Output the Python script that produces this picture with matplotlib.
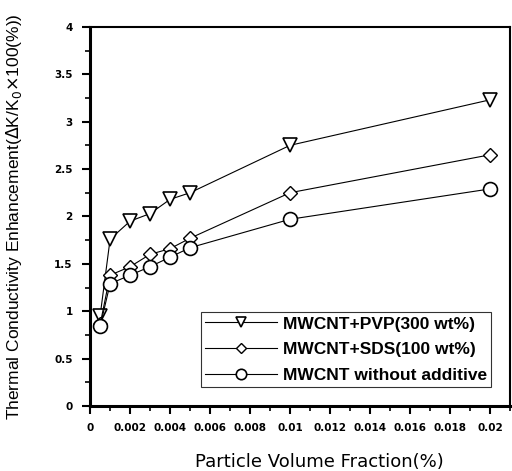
# thermal conductivity enhancement vs particle volume fraction
import matplotlib
matplotlib.use("Agg")
import matplotlib.pyplot as plt
from matplotlib.ticker import MultipleLocator

plt.rcParams['font.family'] = ['Liberation Sans', 'DejaVu Sans']

# data
frac = [0.0005, 0.001, 0.002, 0.003, 0.004, 0.005, 0.01, 0.02]
pvp = [0.95, 1.76, 1.95, 2.03, 2.18, 2.25, 2.75, 3.23]
sds = [0.86, 1.38, 1.47, 1.60, 1.66, 1.77, 2.25, 2.65]
plain = [0.84, 1.29, 1.38, 1.47, 1.57, 1.67, 1.97, 2.29]
labels = ["MWCNT+PVP(300 wt%)", "MWCNT+SDS(100 wt%)", "MWCNT without additive"]
xticks = [0, 0.002, 0.004, 0.006, 0.008, 0.01, 0.012, 0.014, 0.016, 0.018, 0.02]
xticklabels = ['0', '0.002', '0.004', '0.006', '0.008', '0.01', '0.012', '0.014', '0.016', '0.018', '0.02']
yticks = [0, 0.5, 1, 1.5, 2, 2.5, 3, 3.5, 4]
yticklabels = ['0', '0.5', '1', '1.5', '2', '2.5', '3', '3.5', '4']

fig = plt.figure(figsize=(5.12, 4.71), dpi=100)
ax = fig.add_axes([0.176, 0.138, 0.82, 0.805])

ax.plot(frac, pvp, 'k-', lw=0.8, marker='v', ms=10, mfc='white', mec='k', mew=1.2, label=labels[0])
ax.plot(frac, sds, 'k-', lw=0.8, marker='D', ms=7, mfc='white', mec='k', mew=1.0, label=labels[1])
ax.plot(frac, plain, 'k-', lw=0.8, marker='o', ms=10, mfc='white', mec='k', mew=1.2, label=labels[2])

ax.set_xlim(0, 0.021)
ax.set_ylim(0, 4)
ax.set_xticks(xticks)
ax.set_xticklabels(xticklabels)
ax.set_yticks(yticks)
ax.set_yticklabels(yticklabels)
ax.xaxis.set_minor_locator(MultipleLocator(0.001))
ax.yaxis.set_minor_locator(MultipleLocator(0.25))
ax.tick_params(which='major', direction='out', length=6, width=1.5, pad=6.5)
ax.tick_params(which='minor', direction='out', length=3.5, width=1.2)
for t in ax.get_xticklabels() + ax.get_yticklabels():
    t.set_fontfamily('DejaVu Sans')
    t.set_fontweight('bold')
    t.set_fontsize(7.5)
for s in ax.spines.values():
    s.set_linewidth(1.5)
ax.spines['left'].set_linewidth(2.2)
ax.spines['bottom'].set_linewidth(2.2)

ax.set_xlabel("Particle Volume Fraction(%)", fontsize=13, family='DejaVu Sans')
ax.xaxis.set_label_coords(0.545, -0.125)
ax.set_ylabel("Thermal Conductivity Enhancement($\\Delta$K/K$_0$$\\times$100(%))", fontsize=12.5)
ax.yaxis.set_label_coords(-0.157, 0.5)

leg = ax.legend(loc='lower right', bbox_to_anchor=(0.955, 0.05), frameon=True,
                fancybox=False, edgecolor='k', handlelength=4.1, borderpad=0.25, labelspacing=0.6,
                handletextpad=0.35, markerscale=0.75, borderaxespad=0,
                prop={'weight': 'bold', 'size': 12.5})
leg.get_frame().set_linewidth(0.8)

plt.savefig("out.png", dpi=100)
